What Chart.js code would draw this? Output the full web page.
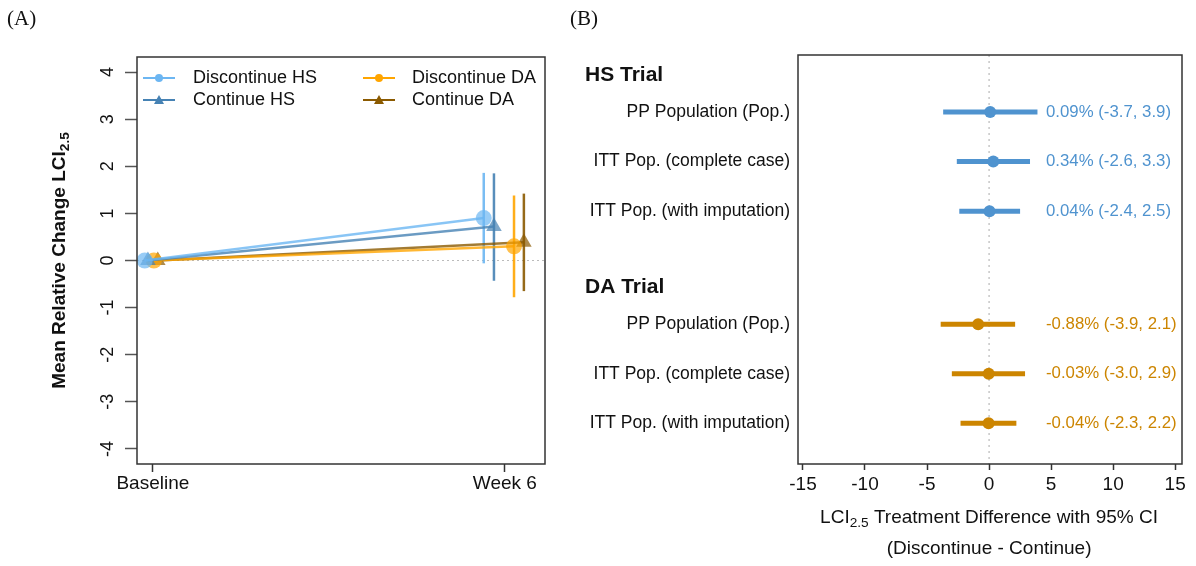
<!DOCTYPE html>
<html>
<head>
<meta charset="utf-8">
<script src="https://cdn.jsdelivr.net/npm/chart.js@4"></script>
<style>
  body { margin: 0; background: #fff; }
  #wrap { position: relative; width: 1196px; height: 566px; }
  .panel { position: absolute; top: 0; height: 566px; }
  #panelA { left: 0; width: 570px; }
  #panelB { left: 570px; width: 626px; }
</style>
</head>
<body>
<div id="wrap">
  <div class="panel" id="panelA"><canvas id="lineChart"></canvas></div>
  <div class="panel" id="panelB"><canvas id="forestChart"></canvas></div>
</div>
<script>
// ---- panel A data ----
const timeLabels = ["Baseline", "Week 6"];
const timeValues = [1, 2];
const seriesNames = ["Discontinue HS", "Continue HS", "Discontinue DA", "Continue DA"];
const meanBaseline = [0, 0, 0, 0];
const meanWeek6 = [0.90, 0.72, 0.30, 0.39];
const lowerWeek6 = [-0.06, -0.43, -0.78, -0.65];
const upperWeek6 = [1.86, 1.85, 1.38, 1.42];
const dodgeBaseline = [-0.023, -0.014, 0.003, 0.014];
const dodgeWeek6 = [-0.06, -0.031, 0.026, 0.054];
const yTicksA = [-4, -3, -2, -1, 0, 1, 2, 3, 4];

// ---- panel B data ----
const hsRows = ["PP Population (Pop.)", "ITT Pop. (complete case)", "ITT Pop. (with imputation)"];
const hsEst = [0.09, 0.34, 0.04];
const hsLower = [-3.7, -2.6, -2.4];
const hsUpper = [3.9, 3.3, 2.5];
const daRows = ["PP Population (Pop.)", "ITT Pop. (complete case)", "ITT Pop. (with imputation)"];
const daEst = [-0.88, -0.03, -0.04];
const daLower = [-3.9, -3.0, -2.3];
const daUpper = [2.1, 2.9, 2.2];
const xTicksB = [-15, -10, -5, 0, 5, 10, 15];

// row layout of the forest plot
const hsRowY = [1.15, 2.15, 3.15];
const daRowY = [5.43, 6.43, 7.43];
const headY = [0.4, 4.68];

const lineColors = ["#6cb6f2", "#4682b4", "#ffa500", "#8b5a00"];
const markerStyles = ["circle", "triangle", "circle", "triangle"];
const hsColor = "#4f93cf";
const daColor = "#cc8500";
const FONT = "'Liberation Sans', Arial, sans-serif";

function alpha(hex, a) {
    const n = parseInt(hex.slice(1), 16);
    return `rgba(${n >> 16},${(n >> 8) & 255},${n & 255},${a})`;
}

// text with a subscript piece: parts = [[text, sub?], ...]
function drawSubText(ctx, parts, x, y, size, bold, align) {
    const w = parts.reduce((s, p) => {
        ctx.font = `${bold ? "bold " : ""}${p[1] ? size * 0.72 : size}px ${FONT}`;
        return s + ctx.measureText(p[0]).width;
    }, 0);
    let cx = align === "center" ? x - w / 2 : x;
    ctx.textAlign = "left";
    ctx.textBaseline = "middle";
    parts.forEach(p => {
        ctx.font = `${bold ? "bold " : ""}${p[1] ? size * 0.72 : size}px ${FONT}`;
        ctx.fillText(p[0], cx, p[1] ? y + size * 0.3 : y);
        cx += ctx.measureText(p[0]).width;
    });
}

Chart.defaults.font.family = FONT;
Chart.defaults.color = "#111";
Chart.defaults.animation = false;

// ---------- panel A ----------
const panelAPlugin = {
    id: "panelA",
    beforeDatasetsDraw(chart) {
        const ctx = chart.ctx, a = chart.chartArea;
        const x = chart.scales.x, y = chart.scales.y;
        ctx.save();
        ctx.strokeStyle = "#bbb";
        ctx.lineWidth = 1;
        ctx.setLineDash([2, 3]);
        ctx.beginPath();
        ctx.moveTo(a.left, y.getPixelForValue(0));
        ctx.lineTo(a.right, y.getPixelForValue(0));
        ctx.stroke();
        ctx.setLineDash([]);
        ctx.lineWidth = 2.5;
        seriesNames.forEach((n, i) => {
            const px = x.getPixelForValue(timeValues[1] + dodgeWeek6[i]);
            ctx.strokeStyle = alpha(lineColors[i], 0.9);
            ctx.beginPath();
            ctx.moveTo(px, y.getPixelForValue(lowerWeek6[i]));
            ctx.lineTo(px, y.getPixelForValue(upperWeek6[i]));
            ctx.stroke();
        });
        ctx.restore();
    },
    afterDraw(chart) {
        const ctx = chart.ctx, a = chart.chartArea, y = chart.scales.y;
        ctx.save();
        ctx.strokeStyle = "#333";
        ctx.lineWidth = 1.5;
        ctx.strokeRect(a.left, a.top, a.right - a.left, a.bottom - a.top);

        // rotated y tick labels
        ctx.fillStyle = "#111";
        ctx.font = `18px ${FONT}`;
        ctx.textAlign = "center";
        ctx.textBaseline = "middle";
        y.ticks.forEach(t => {
            ctx.save();
            ctx.translate(108, y.getPixelForValue(t.value));
            ctx.rotate(-Math.PI / 2);
            ctx.fillText(String(t.value), 0, 0);
            ctx.restore();
        });

        // y title
        ctx.save();
        ctx.translate(60, (a.top + a.bottom) / 2);
        ctx.rotate(-Math.PI / 2);
        drawSubText(ctx, [["Mean Relative Change LCI"], ["2.5", true]], 0, 0, 19, true, "center");
        ctx.restore();

        // legend
        const cols = [[143, 193], [143, 193], [363, 412], [363, 412]];
        const rows = [78, 100, 78, 100];
        seriesNames.forEach((n, i) => {
            const [sx, tx] = cols[i], ry = rows[i];
            ctx.strokeStyle = lineColors[i];
            ctx.fillStyle = lineColors[i];
            ctx.lineWidth = 2;
            ctx.beginPath();
            ctx.moveTo(sx, ry);
            ctx.lineTo(sx + 32, ry);
            ctx.stroke();
            ctx.beginPath();
            if (markerStyles[i] === "circle") {
                ctx.arc(sx + 16, ry, 4, 0, Math.PI * 2);
            } else {
                ctx.moveTo(sx + 16, ry - 5);
                ctx.lineTo(sx + 21, ry + 4);
                ctx.lineTo(sx + 11, ry + 4);
                ctx.closePath();
            }
            ctx.fill();
            ctx.fillStyle = "#111";
            ctx.font = `18px ${FONT}`;
            ctx.textAlign = "left";
            ctx.textBaseline = "middle";
            ctx.fillText(n, tx, ry);
        });

        // panel label
        ctx.font = `21px 'Liberation Serif', 'Times New Roman', serif`;
        ctx.fillText("(A)", 7, 19);
        ctx.restore();
    }
};

new Chart(document.getElementById("lineChart"), {
    type: "line",
    data: {
        datasets: seriesNames.map((name, i) => ({
            label: name,
            data: [
                { x: timeValues[0] + dodgeBaseline[i], y: meanBaseline[i] },
                { x: timeValues[1] + dodgeWeek6[i], y: meanWeek6[i] }
            ],
            borderColor: alpha(lineColors[i], 0.8),
            borderWidth: 2.5,
            backgroundColor: alpha(lineColors[i], 0.7),
            pointBackgroundColor: alpha(lineColors[i], 0.7),
            pointBorderWidth: 0,
            pointRadius: markerStyles[i] === "circle" ? 8 : 9,
            pointStyle: markerStyles[i],
            tension: 0
        }))
    },
    options: {
        responsive: true,
        maintainAspectRatio: false,
        layout: { padding: { left: 0, top: 57, right: 25, bottom: 0 } },
        plugins: { legend: { display: false }, tooltip: { enabled: false } },
        scales: {
            x: {
                type: "linear",
                min: 0.955,
                max: 2.114,
                afterBuildTicks: s => { s.ticks = timeValues.map(v => ({ value: v })); },
                afterFit: s => { s.height = 102; },
                ticks: {
                    callback: (v) => timeLabels[timeValues.indexOf(v)],
                    font: { size: 19 },
                    color: "#111",
                    padding: 0,
                    maxRotation: 0
                },
                grid: { drawOnChartArea: false, drawTicks: true, tickLength: 8, tickColor: "#333", tickWidth: 1.5 },
                border: { display: false }
            },
            y: {
                min: -4.32,
                max: 4.32,
                afterBuildTicks: s => { s.ticks = yTicksA.map(v => ({ value: v })); },
                afterFit: s => { s.width = 137; },
                ticks: { color: "rgba(0,0,0,0)", font: { size: 15 } },
                grid: { drawOnChartArea: false, drawTicks: true, tickLength: 12, tickColor: "#555", tickWidth: 1.5 },
                border: { display: false }
            }
        }
    },
    plugins: [panelAPlugin]
});

// ---------- panel B ----------
const forestPlugin = {
    id: "forest",
    beforeDatasetsDraw(chart) {
        const ctx = chart.ctx, a = chart.chartArea;
        const x = chart.scales.x, y = chart.scales.y;
        ctx.save();
        ctx.strokeStyle = "#aaa";
        ctx.lineWidth = 1;
        ctx.setLineDash([2, 4]);
        ctx.beginPath();
        ctx.moveTo(x.getPixelForValue(0), a.top);
        ctx.lineTo(x.getPixelForValue(0), a.bottom);
        ctx.stroke();
        ctx.setLineDash([]);
        ctx.lineWidth = 5;
        const bars = (lo, hi, ys, col) => lo.forEach((l, i) => {
            ctx.strokeStyle = col;
            ctx.beginPath();
            ctx.moveTo(x.getPixelForValue(l), y.getPixelForValue(ys[i]));
            ctx.lineTo(x.getPixelForValue(hi[i]), y.getPixelForValue(ys[i]));
            ctx.stroke();
        });
        bars(hsLower, hsUpper, hsRowY, hsColor);
        bars(daLower, daUpper, daRowY, daColor);
        ctx.restore();
    },
    afterDraw(chart) {
        const ctx = chart.ctx, a = chart.chartArea, y = chart.scales.y;
        ctx.save();
        ctx.strokeStyle = "#333";
        ctx.lineWidth = 1.5;
        ctx.strokeRect(a.left, a.top, a.right - a.left, a.bottom - a.top);

        ctx.textBaseline = "middle";
        ctx.fillStyle = "#111";
        ctx.font = `bold 21px ${FONT}`;
        ctx.textAlign = "left";
        ctx.fillText("HS Trial", 15, y.getPixelForValue(headY[0]));
        ctx.fillText("DA Trial", 15, y.getPixelForValue(headY[1]));

        const rowText = (labels, est, lo, hi, ys, col) => labels.forEach((l, i) => {
            const py = y.getPixelForValue(ys[i]);
            ctx.font = `17.5px ${FONT}`;
            ctx.fillStyle = "#111";
            ctx.textAlign = "right";
            ctx.fillText(l, 220, py);
            ctx.font = `16.8px ${FONT}`;
            ctx.fillStyle = col;
            ctx.textAlign = "left";
            ctx.fillText(`${est[i].toFixed(2)}% (${lo[i].toFixed(1)}, ${hi[i].toFixed(1)})`, 476, py);
        });
        rowText(hsRows, hsEst, hsLower, hsUpper, hsRowY, hsColor);
        rowText(daRows, daEst, daLower, daUpper, daRowY, daColor);

        ctx.fillStyle = "#111";
        const cx = chart.scales.x.getPixelForValue(0);
        drawSubText(ctx, [["LCI"], ["2.5", true], [" Treatment Difference with 95% CI"]], cx, 518, 19, false, "center");
        ctx.font = `19px ${FONT}`;
        ctx.textAlign = "center";
        ctx.fillText("(Discontinue - Continue)", cx, 549);

        ctx.textAlign = "left";
        ctx.font = `21px 'Liberation Serif', 'Times New Roman', serif`;
        ctx.fillText("(B)", 0, 19);
        ctx.restore();
    }
};

new Chart(document.getElementById("forestChart"), {
    type: "scatter",
    data: {
        datasets: [
            {
                label: "HS Trial",
                data: hsEst.map((v, i) => ({ x: v, y: hsRowY[i] })),
                backgroundColor: hsColor,
                pointRadius: 6,
                pointBorderWidth: 0
            },
            {
                label: "DA Trial",
                data: daEst.map((v, i) => ({ x: v, y: daRowY[i] })),
                backgroundColor: daColor,
                pointRadius: 6,
                pointBorderWidth: 0
            }
        ]
    },
    options: {
        responsive: true,
        maintainAspectRatio: false,
        layout: { padding: { left: 228, top: 55, right: 14, bottom: 0 } },
        plugins: { legend: { display: false }, tooltip: { enabled: false } },
        scales: {
            x: {
                min: -15.4,
                max: 15.55,
                afterBuildTicks: s => { s.ticks = xTicksB.map(v => ({ value: v })); },
                afterFit: s => { s.height = 102; },
                ticks: { font: { size: 19 }, color: "#111", padding: 3, maxRotation: 0 },
                grid: { drawOnChartArea: false, drawTicks: true, tickLength: 6, tickColor: "#333", tickWidth: 1.5 },
                border: { display: false }
            },
            y: {
                display: false,
                min: 0,
                max: 8.25,
                reverse: true
            }
        }
    },
    plugins: [forestPlugin]
});
</script>
</body>
</html>
